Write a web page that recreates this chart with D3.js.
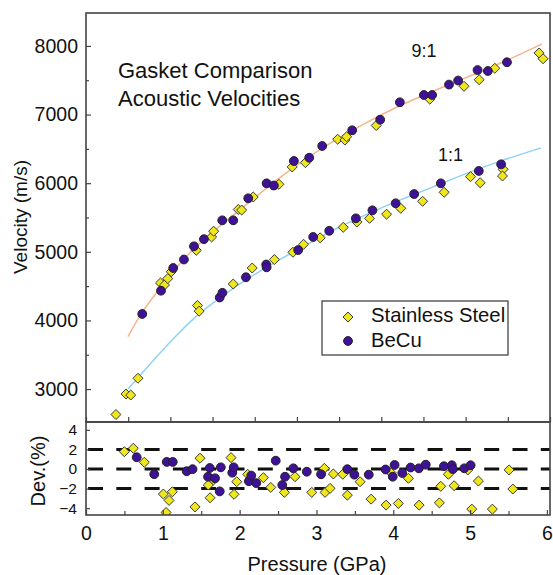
<!DOCTYPE html>
<html>
<head>
<meta charset="utf-8">
<script src="https://cdn.jsdelivr.net/npm/d3@7"></script>
<style>
  body { margin: 0; background: #fff; }
  text { font-family: "Liberation Sans", Arial, sans-serif; fill: #111; }
</style>
</head>
<body>
<svg id="chart" width="553" height="575"></svg>
<script>
// velocity data, [pressure (GPa), velocity (m/s)]
const ss91 = [[0.883, 4546], [0.93, 4516], [0.969, 4610], [1.011, 4710], [1.307, 5022], [1.489, 5216],
  [1.513, 5300], [1.805, 5617], [1.845, 5609], [1.982, 5799], [2.287, 5984], [2.444, 6236], [2.601, 6299],
  [2.983, 6640], [3.069, 6629], [3.089, 6677], [3.44, 6841], [4.076, 7224], [4.481, 7412], [4.66, 7508],
  [4.846, 7674], [5.371, 7897], [5.418, 7813]];
const becu91 = [[0.667, 4094], [0.889, 4433], [1.034, 4764], [1.161, 4888], [1.28, 5080], [1.398, 5184],
  [1.615, 5459], [1.745, 5459], [1.923, 5780], [2.141, 5998], [2.227, 5966], [2.464, 6323], [2.646, 6371],
  [2.8, 6542], [3.155, 6771], [3.487, 6925], [3.72, 7179], [4.005, 7285], [4.103, 7285], [4.303, 7437],
  [4.411, 7496], [4.641, 7649], [4.763, 7635], [4.99, 7762]];
const ss11 = [[0.355, 2629], [0.474, 2928], [0.53, 2913], [0.616, 3157], [1.321, 4218], [1.341, 4135],
  [1.745, 4531], [1.97, 4764], [2.233, 4887], [2.453, 4994], [2.579, 5109], [2.776, 5204], [3.049, 5357],
  [3.211, 5434], [3.361, 5488], [3.563, 5548], [3.731, 5634], [3.99, 5736], [4.245, 5867], [4.558, 6095],
  [4.672, 6007], [4.944, 6202], [4.937, 6105]];
const becu11 = [[1.585, 4334], [1.617, 4403], [1.896, 4629], [2.136, 4815], [2.141, 4774], [2.515, 5026],
  [2.693, 5216], [2.883, 5306], [3.199, 5488], [3.395, 5605], [3.671, 5707], [3.89, 5842], [4.206, 5998],
  [4.656, 6178], [4.921, 6275]];

// fitted curves
const fit91 = [[0.498, 3763], [0.664, 4140], [0.936, 4560], [1.137, 4870], [1.303, 5075], [1.517, 5310],
  [1.825, 5610], [2.121, 5915], [2.536, 6300], [2.891, 6586], [3.246, 6833], [3.72, 7139], [4.313, 7445],
  [4.905, 7737], [5.403, 8028]];
const fit11 = [[0.498, 3001], [0.616, 3165], [0.877, 3530], [1.078, 3790], [1.315, 4080], [1.588, 4330],
  [1.861, 4570], [2.145, 4779], [2.453, 4997], [2.654, 5128], [2.927, 5318], [3.329, 5551], [3.72, 5755],
  [4.111, 5944], [4.514, 6148], [4.905, 6323], [5.391, 6513]];

// deviations, [pressure (GPa), dev (%)]
const devSs = [[0.499, 1.77], [0.616, 2.12], [0.759, 0.69], [1.007, -2.56], [1.081, -3.21], [1.124, -2.33],
  [1.042, -4.44], [1.419, -3.87], [1.484, 1.1], [1.615, -2.94], [1.658, -1.13], [1.592, -1.64], [1.888, 1.16],
  [1.962, -1.3], [1.927, -2.59], [2.105, -0.54], [2.309, -0.89], [2.405, -1.88], [2.582, -2.39], [2.721, -0.79],
  [2.939, -2.39], [3.103, 0.07], [3.112, -2.39], [3.177, -1.98], [3.22, -0.51], [3.342, -0.54], [3.402, -2.67],
  [3.568, -1.3], [3.711, -3.08], [3.906, -3.69], [3.971, -0.38], [4.066, -3.52], [4.197, -0.95], [4.336, -3.69],
  [4.6, -3.46], [4.618, -1.77], [4.717, -0.54], [4.792, -1.71], [4.97, -0.1], [5.022, -4.1], [5.108, -1.23],
  [5.29, -4.1], [5.508, -0.1], [5.556, -2.05]];
const devBecu = [[0.66, 1.2], [0.888, -0.53], [1.051, 0.72], [1.129, 0.72], [1.311, -0.23], [1.387, -0.02],
  [1.589, -0.79], [1.611, 0.1], [1.68, -0.95], [1.741, -2.29], [1.755, 0.17], [1.904, -0.38], [1.923, 0.17],
  [2.12, -1.25], [2.151, -0.67], [2.216, -1.44], [2.47, 0.85], [2.555, -1.64], [2.591, -0.79], [2.699, 0.07],
  [2.874, -0.28], [3.06, -0.54], [3.402, -0.02], [3.493, -0.58], [3.681, -0.58], [3.9, -0.05], [3.993, -0.79],
  [4.017, 0.41], [4.117, -0.41], [4.225, 0.15], [4.333, 0.07], [4.423, 0.44], [4.659, 0.28], [4.762, 0.38],
  [4.775, -0.02], [4.924, 0.07], [5.007, 0.38]];

const velTicks = [3000, 4000, 5000, 6000, 7000, 8000];
const velMinor = [3500, 4500, 5500, 6500, 7500];
const devTicks = [-4, -2, 0, 2, 4];
const devRefs = [2, 0, -2];
const pressureTicks = [0, 1, 2, 3, 4, 5, 6];
const pressureMinor = [0.5, 1.5, 2.5, 3.5, 4.5, 5.5];

const purple = '#3f1199';
const yellow = '#f0e61c';

const svg = d3.select('#chart');

const plotLeft = 86, plotRight = 550, plotTop = 13, plotMid = 422, plotBottom = 515;

const xTop = d3.scaleLinear().domain([0, 5.5]).range([plotLeft, plotRight]);
const xBot = d3.scaleLinear().domain([0, 6.04]).range([plotLeft, plotRight]);
const yVel = d3.scaleLinear().domain([2520, 8480]).range([plotMid, plotTop]);
const yDev = d3.scaleLinear().domain([-4.7, 4.8]).range([plotBottom, plotMid]);

// clip regions
const defs = svg.append('defs');
defs.append('clipPath').attr('id', 'clipTop').append('rect')
  .attr('x', plotLeft).attr('y', plotTop).attr('width', plotRight - plotLeft).attr('height', plotMid - plotTop);
defs.append('clipPath').attr('id', 'clipBot').append('rect')
  .attr('x', plotLeft).attr('y', plotMid).attr('width', plotRight - plotLeft).attr('height', plotBottom - plotMid);

const diamond = d3.symbol().type(d3.symbolDiamond2).size(64);

function drawDiamonds(g, data, x, y) {
  g.selectAll(null).data(data).enter().append('path')
    .attr('d', diamond)
    .attr('transform', (d) => `translate(${x(d[0])},${y(d[1])})`)
    .attr('fill', yellow).attr('stroke', '#3a3a3a').attr('stroke-width', 1);
}

function drawCircles(g, data, x, y) {
  g.selectAll(null).data(data).enter().append('circle')
    .attr('cx', (d) => x(d[0])).attr('cy', (d) => y(d[1])).attr('r', 4.4)
    .attr('fill', purple).attr('stroke', '#222').attr('stroke-width', 1);
}

// top panel
const gTop = svg.append('g').attr('clip-path', 'url(#clipTop)');
const line = d3.line().x((d) => xTop(d[0])).y((d) => yVel(d[1])).curve(d3.curveBasis);
gTop.append('path').attr('d', line(fit91)).attr('fill', 'none').attr('stroke', '#f7b48c').attr('stroke-width', 1.5);
gTop.append('path').attr('d', line(fit11)).attr('fill', 'none').attr('stroke', '#8ed2f4').attr('stroke-width', 1.5);
drawDiamonds(gTop, ss91, xTop, yVel);
drawCircles(gTop, becu91, xTop, yVel);
drawDiamonds(gTop, ss11, xTop, yVel);
drawCircles(gTop, becu11, xTop, yVel);

// bottom panel
const gBot = svg.append('g').attr('clip-path', 'url(#clipBot)');
gBot.selectAll(null).data(devRefs).enter().append('line')
  .attr('x1', plotLeft + 2).attr('x2', plotRight)
  .attr('y1', (d) => yDev(d)).attr('y2', (d) => yDev(d))
  .attr('stroke', '#111').attr('stroke-width', 3).attr('stroke-dasharray', '15,13.3');
drawDiamonds(gBot, devSs, xBot, yDev);
drawCircles(gBot, devBecu, xBot, yDev);

// axes, ticks pointing inward
const axTopY = svg.append('g').attr('transform', `translate(${plotLeft},0)`)
  .call(d3.axisLeft(yVel).tickValues(velTicks).tickSize(-5).tickPadding(8).tickFormat(d3.format('d')));
svg.append('g').attr('transform', `translate(${plotLeft},0)`)
  .call(d3.axisLeft(yVel).tickValues(velMinor).tickSize(-3).tickFormat(''));
svg.append('g').attr('transform', `translate(0,${plotMid})`)
  .call(d3.axisBottom(xTop).ticks(11).tickSize(-5).tickFormat(''));
const axDevY = svg.append('g').attr('transform', `translate(${plotLeft},0)`)
  .call(d3.axisLeft(yDev).tickValues(devTicks).tickSize(-4).tickPadding(9));
const axX = svg.append('g').attr('transform', `translate(0,${plotBottom})`)
  .call(d3.axisBottom(xBot).tickValues(pressureTicks).tickSize(-5).tickPadding(11.5).tickFormat(d3.format('d')));
svg.append('g').attr('transform', `translate(0,${plotBottom})`)
  .call(d3.axisBottom(xBot).tickValues(pressureMinor).tickSize(-4).tickFormat(''));

svg.selectAll('.domain').remove();
svg.selectAll('.tick line').attr('stroke', '#444').attr('stroke-width', 1.2);
axTopY.selectAll('text').attr('font-size', 19.5);
axDevY.selectAll('text').attr('font-size', 15.5);
axX.selectAll('text').attr('font-size', 19.5);
svg.selectAll('.tick text').attr('fill', '#111').attr('font-family', '"Liberation Sans", Arial, sans-serif');

// frames
svg.append('rect').attr('x', plotLeft).attr('y', plotTop).attr('width', plotRight - plotLeft).attr('height', plotMid - plotTop)
  .attr('fill', 'none').attr('stroke', '#444').attr('stroke-width', 1.6);
svg.append('rect').attr('x', plotLeft).attr('y', plotMid).attr('width', plotRight - plotLeft).attr('height', plotBottom - plotMid)
  .attr('fill', 'none').attr('stroke', '#444').attr('stroke-width', 1.6);

// labels
svg.append('text').attr('x', 118).attr('y', 78).attr('font-size', 22).text('Gasket Comparison');
svg.append('text').attr('x', 118).attr('y', 106).attr('font-size', 22).text('Acoustic Velocities');
svg.append('text').attr('x', 411.5).attr('y', 57).attr('font-size', 18).text('9:1');
svg.append('text').attr('x', 438).attr('y', 160.5).attr('font-size', 18).text('1:1');

svg.append('text').attr('transform', 'translate(27,217) rotate(-90)')
  .attr('text-anchor', 'middle').attr('font-size', 19).text('Velocity (m/s)');
svg.append('text').attr('transform', 'translate(45,471) rotate(-90)')
  .attr('text-anchor', 'middle').attr('font-size', 20).text('Dev.(%)');
svg.append('text').attr('x', 317).attr('y', 571).attr('text-anchor', 'middle')
  .attr('font-size', 20).text('Pressure (GPa)');

// legend
const legend = svg.append('g');
legend.append('rect').attr('x', 322).attr('y', 301).attr('width', 186).attr('height', 54)
  .attr('fill', '#fff').attr('stroke', '#444').attr('stroke-width', 1.3);
legend.append('path').attr('d', diamond).attr('transform', 'translate(348,317)')
  .attr('fill', yellow).attr('stroke', '#3a3a3a');
legend.append('circle').attr('cx', 348).attr('cy', 341).attr('r', 4.4)
  .attr('fill', purple).attr('stroke', '#222');
legend.append('text').attr('x', 371).attr('y', 322).attr('font-size', 20.3).text('Stainless Steel');
legend.append('text').attr('x', 371).attr('y', 347).attr('font-size', 20.3).text('BeCu');
</script>
</body>
</html>
